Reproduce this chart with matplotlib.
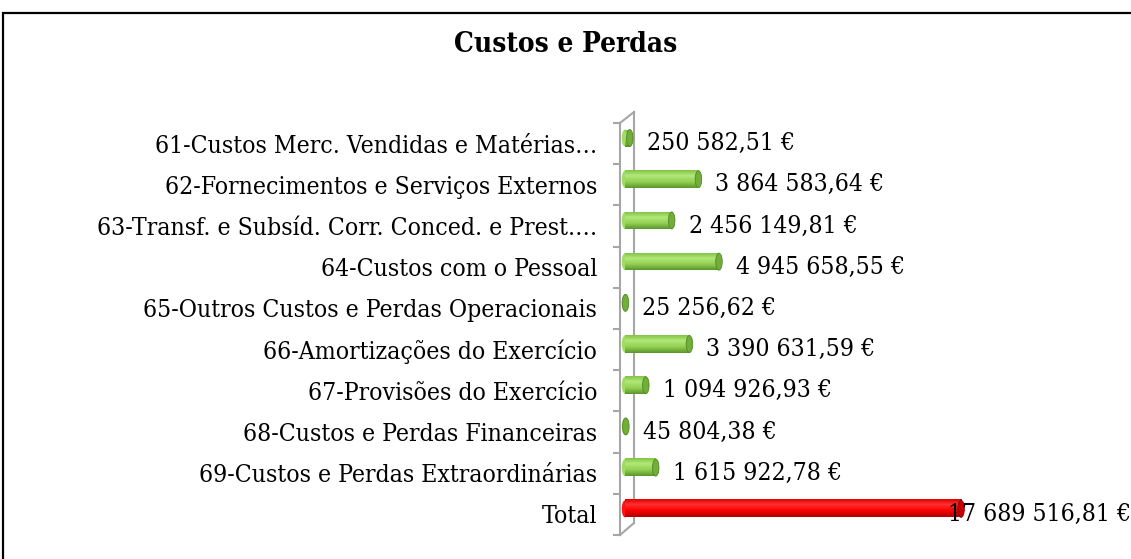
import matplotlib
matplotlib.use("Agg")
import matplotlib.pyplot as plt
import numpy as np
from matplotlib.patches import Ellipse, Rectangle
from matplotlib.colors import LinearSegmentedColormap

# ---------------- data ----------------
title = "Custos e Perdas"
categories = [
    "61-Custos Merc. Vendidas e Matérias…",
    "62-Fornecimentos e Serviços Externos",
    "63-Transf. e Subsíd. Corr. Conced. e Prest.…",
    "64-Custos com o Pessoal",
    "65-Outros Custos e Perdas Operacionais",
    "66-Amortizações do Exercício",
    "67-Provisões do Exercício",
    "68-Custos e Perdas Financeiras",
    "69-Custos e Perdas Extraordinárias",
    "Total",
]
values = [250582.51, 3864583.64, 2456149.81, 4945658.55, 25256.62,
          3390631.59, 1094926.93, 45804.38, 1615922.78, 17689516.81]

# ---------------- layout ----------------
W, H, DPI = 1131, 559, 100
FONT = "DejaVu Serif"
STRETCH = "condensed"
fig = plt.figure(figsize=(W / DPI, H / DPI), dpi=DPI)

def fx(px):
    return px / W

def fy(py):
    return 1 - py / H

renderer = fig.canvas.get_renderer()

def fit_size(text, target_px, bold=False):
    t = fig.text(0, 0, text, fontsize=14, family=FONT, fontstretch=STRETCH,
                 fontweight="bold" if bold else "normal")
    w = t.get_window_extent(renderer).width
    t.remove()
    return 14 * target_px / w

fs = fit_size(categories[1], 435)
tfs = fit_size(title, 225, bold=True)

ax_left_px, ax_top_px, ax_bot_px = 620, 123, 535
ax = fig.add_axes([fx(ax_left_px), fy(ax_bot_px),
                   fx(W) - fx(ax_left_px), fy(ax_top_px) - fy(ax_bot_px)])

px_per_euro = 19.0 / 1e6
x_left = -5 / px_per_euro
x_right = x_left + (W - ax_left_px) / px_per_euro
n = len(values)
row_px = (ax_bot_px - ax_top_px) / n

bar_h = 17 / row_px
bar_off = -0.135
cap_w = 6.5 / px_per_euro

green = LinearSegmentedColormap.from_list(
    "g", [(0, "#82c444"), (0.3, "#b2e87a"), (0.65, "#93d152"), (1, "#5c962c")])
red = LinearSegmentedColormap.from_list(
    "r", [(0, "#e00000"), (0.3, "#ff3030"), (0.65, "#fa0000"), (1, "#b00000")])

grad = np.linspace(0, 1, 64).reshape(-1, 1)
for i, v in enumerate(values):
    is_total = i == n - 1
    cmap = red if is_total else green
    cap_col = "#c40000" if is_total else "#72ae3a"
    edge_col = "#8a0000" if is_total else "#538726"
    yc = i + bar_off
    ax.add_patch(Ellipse((0, yc), cap_w, bar_h, facecolor=cmap(0.5),
                         edgecolor="none", zorder=2))
    ax.imshow(grad, cmap=cmap, aspect="auto", interpolation="bilinear",
              extent=(0, v, yc + bar_h / 2, yc - bar_h / 2), zorder=3)
    ax.add_patch(Ellipse((v, yc), cap_w, bar_h, facecolor=cap_col,
                         edgecolor=edge_col, lw=0.6, zorder=4))
    label = f"{v:,.2f}".replace(",", " ").replace(".", ",") + " €"
    off = -13 if is_total else 17
    ax.annotate(label, xy=(v, i), xytext=(off, 0), textcoords="offset pixels",
                ha="left", va="center", fontsize=fs, family=FONT,
                fontstretch=STRETCH, annotation_clip=False, zorder=6)

ax.set_xlim(x_left, x_right)
ax.set_ylim(n - 0.5, -0.5)

# wall (3D axis)
wall_col = "#a6a6a6"
x_back = (634 - 625) / px_per_euro
y_back_top = -0.5 - (ax_top_px - 112) / row_px
y_back_bot = n - 0.5 - (ax_bot_px - 523) / row_px
ax.plot([x_back, x_back], [y_back_top, y_back_bot], color=wall_col, lw=1.5,
        clip_on=False, zorder=1)
ax.plot([x_left, x_back], [-0.5, y_back_top], color=wall_col, lw=1.5,
        clip_on=False, zorder=1)
ax.plot([x_left, x_back], [n - 0.5, y_back_bot], color=wall_col, lw=1.5,
        clip_on=False, zorder=1)

ax.set_yticks(np.arange(n))
ax.set_yticklabels(categories, fontsize=fs, family=FONT, fontstretch=STRETCH)
ax.set_yticks(np.arange(-0.5, n), minor=True)
ax.tick_params(axis="y", which="major", length=0, pad=16.5)
ax.tick_params(axis="y", which="minor", length=5, width=1.5, color=wall_col,
               direction="out")
ax.set_xticks([])
for s in ["top", "right", "bottom"]:
    ax.spines[s].set_visible(False)
ax.spines["left"].set_color(wall_col)
ax.spines["left"].set_linewidth(1.5)
ax.patch.set_visible(False)

fig.text(0.5, fy(45), title, ha="center", va="center", fontsize=tfs,
         fontweight="bold", family=FONT, fontstretch=STRETCH)

# chart border
fig.add_artist(Rectangle((fx(3), fy(600)), 1.2, fy(13) - fy(600),
                         transform=fig.transFigure, fill=False,
                         edgecolor="black", lw=1.6, clip_on=False))

fig.savefig("out.png", dpi=DPI)
